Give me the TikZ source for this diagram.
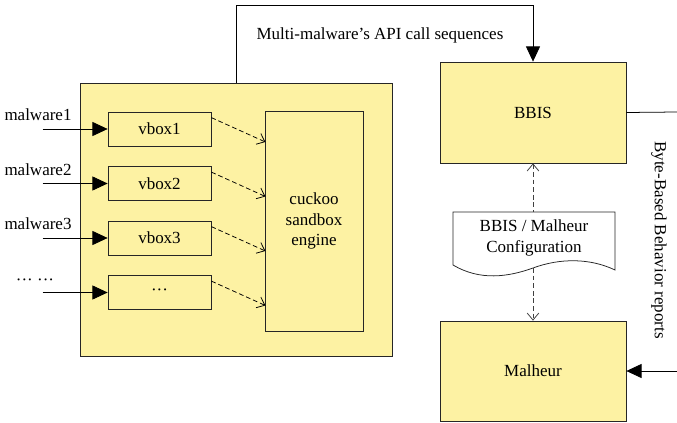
\documentclass[tikz,border=0pt]{standalone}
\usepackage{fontspec}
\setmainfont{Liberation Serif}
\usetikzlibrary{
    positioning,
    arrows.meta,
    calc
}
\definecolor{boxyellow}{RGB}{253,242,163}
\newcommand{\pu}{0.03cm}

\begin{document}
\begin{tikzpicture}[x=\pu,y=-\pu,line width=0.65pt,
		every node/.style={font=\fontsize{14.5}{17.5}\selectfont},
		panel/.style={draw=black!85,fill=boxyellow,inner sep=0pt},
		vbox/.style={draw=black!85,fill=boxyellow,minimum width=103*\pu,minimum height=34*\pu,inner sep=0pt},
		feed/.style={-{Triangle[length=13pt,width=12pt]}},
		flow/.style={dash pattern=on 4pt off 2.5pt,-{Straight Barb[length=6pt,width=10pt]}}]
		\useasboundingbox (0,0) rectangle (677,422);
		% analysis host
		\node[panel,minimum width=312*\pu,minimum height=273*\pu] (host) at (236,219.5) {};
		\node[panel,minimum width=98*\pu,minimum height=220*\pu,align=center] (engine) at (314,221) {cuckoo\\sandbox\\engine};
		\node[vbox] (vbox1) at (159.5,129) {vbox1};
		\node[vbox] (vbox2) at (159.5,183.5) {vbox2};
		\node[vbox] (vbox3) at (159.5,238) {vbox3};
		\node[vbox] (vbox4) at (159.5,292.5) {···};
		\node (m1) at (38,115) {malware1};
		\node (m2) at (38,169.5) {malware2};
		\node (m3) at (38,224) {malware3};
		\node (m4) at (35,282) {··· ···};
		\foreach \i in {1,...,4} {
			\coordinate (in\i) at ($(vbox\i.west)+(-65,0)$);
			\draw[feed] (in\i) -- (vbox\i.west);
			\draw[flow] ($(vbox\i.north east)+(0,6)$) -- ($(vbox\i.east)+(54,13)$);
		}
		% right column
		\node[panel,minimum width=186*\pu,minimum height=101*\pu] (bbis) at (533,112.5) {BBIS};
		\node[panel,minimum width=186*\pu,minimum height=100*\pu] (malheur) at (533,371) {Malheur};
		\draw[black!85,fill=white] (453,212) -- (615,212) -- (615,270)
			.. controls (590,258) and (560,258) .. (533,268)
			.. controls (508,277) and (480,281) .. (453,265) -- cycle;
		\node[align=center,inner sep=0pt] (cfg) at (534,238) {BBIS / Malheur\\Configuration};
		\coordinate (cfgtop) at (533,212);
		\coordinate (cfgbot) at (533,268);
		\draw[dash pattern=on 4pt off 2.5pt,black!75,{Straight Barb[length=6pt,width=10pt]}-] (bbis.south) -- (cfgtop);
		\draw[dash pattern=on 4pt off 2.5pt,black!75,-{Straight Barb[length=6pt,width=10pt]}] (cfgbot) -- (malheur.north);
		% API call sequences
		\draw[feed] (host.north) -- ++(0,-77) -| (bbis.north);
		\node (api) at (380,35) {Multi-malware’s API call sequences};
		% reports
		\coordinate (outR) at (677,112);
		\coordinate (inR) at (677,371);
		\draw (bbis.east) -- (outR);
		\draw[feed] (inR) -- (malheur.east);
		\node[rotate=-90] (rep) at (659,240) {Byte-Based Behavior reports};
	\end{tikzpicture}
\end{document}
